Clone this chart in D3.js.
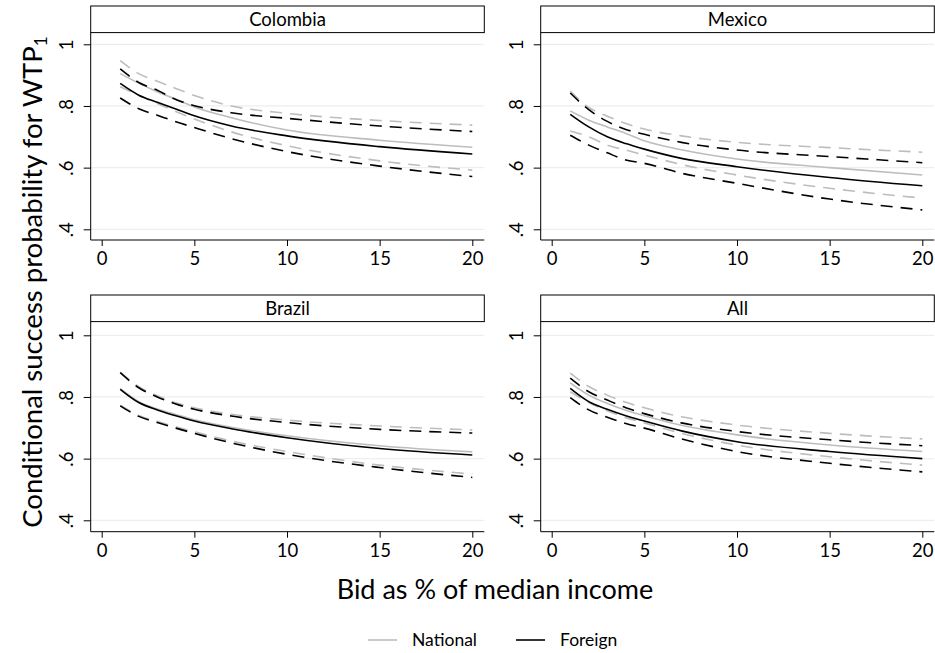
<!DOCTYPE html>
<html>
<head>
<meta charset="utf-8">
<script src="https://cdn.jsdelivr.net/npm/d3@7"></script>
<style>
  html, body { margin: 0; padding: 0; background: #fff; }
  svg { display: block; font-family: Lato, "Open Sans", sans-serif; }
</style>
</head>
<body>
<svg id="chart" width="935" height="653"></svg>
<script>
// ---------- DATA ----------
const bids = [1, 2, 3, 4, 5, 7, 10, 15, 20];
const panels = ["Colombia", "Mexico", "Brazil", "All"];
const xTicks = [0, 5, 10, 15, 20];
const yTicks = [0.4, 0.6, 0.8, 1];
const yTickLabels = [".4", ".6", ".8", "1"];
const legendLabels = ["National", "Foreign"];

// Colombia
const colombiaNationalHi   = [0.947, 0.905, 0.880, 0.857, 0.834, 0.800, 0.776, 0.753, 0.738];
const colombiaNationalMean = [0.905, 0.874, 0.846, 0.822, 0.797, 0.762, 0.722, 0.689, 0.666];
const colombiaNationalLo   = [0.862, 0.835, 0.808, 0.782, 0.758, 0.716, 0.671, 0.622, 0.592];
const colombiaForeignHi    = [0.920, 0.876, 0.851, 0.821, 0.801, 0.778, 0.760, 0.735, 0.717];
const colombiaForeignMean  = [0.873, 0.835, 0.812, 0.790, 0.768, 0.735, 0.703, 0.668, 0.644];
const colombiaForeignLo    = [0.826, 0.791, 0.770, 0.749, 0.730, 0.694, 0.652, 0.605, 0.571];
// Mexico
const mexicoNationalHi     = [0.848, 0.795, 0.767, 0.743, 0.725, 0.703, 0.682, 0.665, 0.650];
const mexicoNationalMean   = [0.784, 0.754, 0.732, 0.711, 0.687, 0.658, 0.628, 0.600, 0.576];
const mexicoNationalLo     = [0.719, 0.700, 0.673, 0.657, 0.641, 0.610, 0.576, 0.533, 0.501];
const mexicoForeignHi      = [0.842, 0.788, 0.750, 0.724, 0.708, 0.682, 0.657, 0.636, 0.616];
const mexicoForeignMean    = [0.773, 0.732, 0.700, 0.678, 0.660, 0.630, 0.603, 0.568, 0.541];
const mexicoForeignLo      = [0.705, 0.673, 0.648, 0.625, 0.614, 0.582, 0.549, 0.498, 0.463];
// Brazil
const brazilNationalHi     = [0.881, 0.833, 0.804, 0.781, 0.765, 0.744, 0.725, 0.706, 0.693];
const brazilNationalMean   = [0.827, 0.785, 0.761, 0.743, 0.726, 0.702, 0.674, 0.642, 0.622];
const brazilNationalLo     = [0.773, 0.740, 0.721, 0.703, 0.687, 0.657, 0.623, 0.579, 0.550];
const brazilForeignHi      = [0.879, 0.830, 0.800, 0.777, 0.760, 0.738, 0.717, 0.695, 0.683];
const brazilForeignMean    = [0.825, 0.782, 0.758, 0.739, 0.722, 0.697, 0.668, 0.633, 0.612];
const brazilForeignLo      = [0.771, 0.737, 0.717, 0.699, 0.682, 0.651, 0.614, 0.571, 0.539];
// All
const allNationalHi        = [0.877, 0.834, 0.806, 0.783, 0.765, 0.736, 0.709, 0.682, 0.664];
const allNationalMean      = [0.846, 0.806, 0.779, 0.757, 0.739, 0.708, 0.677, 0.644, 0.623];
const allNationalLo        = [0.817, 0.782, 0.755, 0.733, 0.716, 0.682, 0.644, 0.606, 0.579];
const allForeignHi         = [0.861, 0.817, 0.790, 0.765, 0.746, 0.716, 0.688, 0.661, 0.642];
const allForeignMean       = [0.828, 0.785, 0.760, 0.739, 0.722, 0.690, 0.655, 0.623, 0.600];
const allForeignLo         = [0.798, 0.758, 0.734, 0.714, 0.699, 0.664, 0.623, 0.585, 0.557];

const seriesByPanel = {
  Colombia: { national: [colombiaNationalHi, colombiaNationalMean, colombiaNationalLo],
              foreign:  [colombiaForeignHi,  colombiaForeignMean,  colombiaForeignLo] },
  Mexico:   { national: [mexicoNationalHi, mexicoNationalMean, mexicoNationalLo],
              foreign:  [mexicoForeignHi,  mexicoForeignMean,  mexicoForeignLo] },
  Brazil:   { national: [brazilNationalHi, brazilNationalMean, brazilNationalLo],
              foreign:  [brazilForeignHi,  brazilForeignMean,  brazilForeignLo] },
  All:      { national: [allNationalHi, allNationalMean, allNationalLo],
              foreign:  [allForeignHi,  allForeignMean,  allForeignLo] }
};

// ---------- LAYOUT ----------
const svg = d3.select("#chart");
const colLeft = [90.7, 540.7];
const panelW = 393.6;
const headerTop = [6, 295];
const headerH = 26.6;
const axisBottom = [240, 531.7];
const yTop = [44.3, 335.3];   // y position of 1
const yBot = [229.3, 520.3];  // y position of .4

const natColor = "#bdbdbd";
const forColor = "#000000";
const gridColor = "#e9f0f2";
const dash = "12,8";

panels.forEach((name, i) => {
  const col = i % 2, row = Math.floor(i / 2);
  const x0 = colLeft[col];
  const g = svg.append("g");

  const x = d3.scaleLinear().domain([0, 20]).range([x0 + 11, x0 + 381.6]);
  const y = d3.scaleLinear().domain([0.4, 1]).range([yBot[row], yTop[row]]);
  const plotTop = headerTop[row] + headerH;
  const plotBottom = axisBottom[row];

  // gridlines
  g.selectAll("line.grid").data(yTicks).enter().append("line")
    .attr("x1", x0).attr("x2", x0 + panelW)
    .attr("y1", d => y(d)).attr("y2", d => y(d))
    .attr("stroke", gridColor).attr("stroke-width", 1.2);

  // header box
  g.append("rect")
    .attr("x", x0).attr("y", headerTop[row])
    .attr("width", panelW).attr("height", headerH)
    .attr("fill", "#fff").attr("stroke", "#000").attr("stroke-width", 1);
  g.append("text")
    .attr("x", x0 + panelW / 2).attr("y", headerTop[row] + headerH / 2 + 6.5)
    .attr("text-anchor", "middle").attr("font-size", 18.5).attr("fill", "#000")
    .text(name);

  // axes
  const xAxis = d3.axisBottom(x).tickValues(xTicks).tickSize(6).tickPadding(5).tickFormat(d3.format("d"));
  const xg = g.append("g").attr("transform", `translate(0,${plotBottom})`).call(xAxis);
  xg.select(".domain").remove();
  xg.append("line").attr("x1", x0).attr("x2", x0 + panelW).attr("y1", 0).attr("y2", 0)
    .attr("stroke", "#000").attr("stroke-width", 1);
  xg.selectAll(".tick line").attr("stroke", "#000");
  xg.selectAll(".tick text").attr("font-size", 18.5).attr("fill", "#000")
    .attr("font-family", "Lato, sans-serif").attr("dy", "0.78em");

  const yAxis = d3.axisLeft(y).tickValues(yTicks).tickSize(7).tickPadding(0)
    .tickFormat((d, k) => yTickLabels[k]);
  const yg = g.append("g").attr("transform", `translate(${x0},0)`).call(yAxis);
  yg.select(".domain").remove();
  yg.append("line").attr("x1", 0).attr("x2", 0).attr("y1", plotTop).attr("y2", plotBottom)
    .attr("stroke", "#000").attr("stroke-width", 1);
  yg.selectAll(".tick line").attr("stroke", "#000");
  yg.selectAll(".tick text")
    .attr("font-size", 18.5).attr("fill", "#000").attr("font-family", "Lato, sans-serif")
    .attr("text-anchor", "middle").attr("dy", null).attr("x", null)
    .attr("transform", "translate(-17.5,0) rotate(-90)");

  // lines
  const line = d3.line().x((d, k) => x(bids[k])).y(d => y(d)).curve(d3.curveMonotoneX);
  const s = seriesByPanel[name];
  [["national", natColor], ["foreign", forColor]].forEach(([key, color]) => {
    const [hi, mean, lo] = s[key];
    g.append("path").attr("d", line(hi)).attr("fill", "none").attr("stroke", color)
      .attr("stroke-width", 1.6).attr("stroke-dasharray", dash);
    g.append("path").attr("d", line(lo)).attr("fill", "none").attr("stroke", color)
      .attr("stroke-width", 1.6).attr("stroke-dasharray", dash);
    g.append("path").attr("d", line(mean)).attr("fill", "none").attr("stroke", color)
      .attr("stroke-width", 1.6);
  });
});

// axis titles
svg.append("text")
  .attr("x", 495).attr("y", 599)
  .attr("text-anchor", "middle").attr("font-size", 27).attr("fill", "#000")
  .text("Bid as % of median income");

const yt = svg.append("text")
  .attr("transform", "translate(42,282) rotate(-90)")
  .attr("text-anchor", "middle").attr("font-size", 27.5).attr("fill", "#000");
yt.append("tspan").text("Conditional success probability for WTP");
yt.append("tspan").attr("font-size", 17).attr("dy", 5).text("1");

// legend
const legX = [368, 516];
const legG = svg.append("g");
legendLabels.forEach((lab, k) => {
  legG.append("line").attr("x1", legX[k]).attr("x2", legX[k] + 29)
    .attr("y1", 640).attr("y2", 640)
    .attr("stroke", k === 0 ? natColor : forColor).attr("stroke-width", 1.6);
  legG.append("text").attr("x", legX[k] + 44).attr("y", 645.5)
    .attr("font-size", 17.5).attr("fill", "#000").text(lab);
});
</script>
</body>
</html>
